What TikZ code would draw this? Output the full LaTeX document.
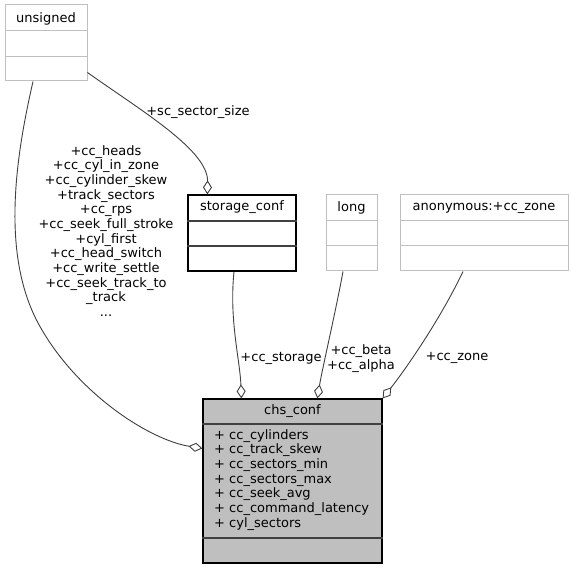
\documentclass[tikz,border=0pt]{standalone}
\usepackage{fontspec}
\setmainfont{DejaVu Sans}
\usetikzlibrary{arrows.meta}
\definecolor{edgecol}{HTML}{404040}
\definecolor{lightborder}{HTML}{BFBFBF}
\definecolor{classfill}{HTML}{BFBFBF}
\tikzset{
  txt/.style={font=\fontsize{13}{14.67}\selectfont, inner sep=0pt, text=black},
  extbox/.style={draw=lightborder, line width=1pt, fill=white, inner sep=0pt, minimum height=76pt},
  docbox/.style={draw=black, line width=1.2pt, fill=white, inner sep=0pt, minimum height=76pt},
  mainbox/.style={draw=black, line width=1.2pt, fill=classfill, inner sep=0pt},
  seplight/.style={draw=lightborder, line width=1pt},
  sepdark/.style={draw=edgecol, line width=1.2pt},
  conn/.style={draw=edgecol, line width=0.9pt, -{Diamond[open,length=14pt,width=9pt,line width=0.9pt]}},
}
\begin{document}
\begin{tikzpicture}[x=1pt,y=-1pt]
\useasboundingbox[fill=white] (0,0) rectangle (571,569);

% unsigned
\node[extbox, minimum width=82pt] (u) at (46,43) {};
\node[txt] (uh) at (46,18.5) {unsigned};
\draw[seplight] (u.west |- 0,31) -- (u.east |- 0,31);
\draw[seplight] (u.west |- 0,57) -- (u.east |- 0,57);

% storage_conf
\node[docbox, minimum width=108pt] (st) at (242,233) {};
\node[txt] (sth) at (242,207.5) {storage\_conf};
\draw[sepdark] (st.west |- 0,221) -- (st.east |- 0,221);
\draw[sepdark] (st.west |- 0,246) -- (st.east |- 0,246);

% long
\node[extbox, minimum width=51pt] (lg) at (351.5,233) {};
\node[txt] (lgh) at (351.5,207.5) {long};
\draw[seplight] (lg.west |- 0,221) -- (lg.east |- 0,221);
\draw[seplight] (lg.west |- 0,246) -- (lg.east |- 0,246);

% anonymous
\node[extbox, minimum width=168pt] (an) at (484,233) {};
\node[txt] (anh) at (484,207.5) {anonymous:+cc\_zone};
\draw[seplight] (an.west |- 0,221) -- (an.east |- 0,221);
\draw[seplight] (an.west |- 0,246) -- (an.east |- 0,246);

% chs_conf
\node[mainbox, minimum width=179pt, minimum height=164pt] (chs) at (292.5,481) {};
\node[txt] (chsh) at (292.5,411) {chs\_conf};
\draw[sepdark] (chs.west |- 0,424) -- (chs.east |- 0,424);
\draw[sepdark] (chs.west |- 0,538) -- (chs.east |- 0,538);
\node[txt, align=left, anchor=north west] (mem) at (214,429) {+ cc\_cylinders\\+ cc\_track\_skew\\+ cc\_sectors\_min\\+ cc\_sectors\_max\\+ cc\_seek\_avg\\+ cc\_command\_latency\\+ cyl\_sectors};

% connectors
\draw[conn] ([xshift=-13pt]u.south) .. controls (15,160) and (0,260) .. (42,330)
   .. controls (80,395) and (150,440) .. ([yshift=-50pt]chs.north west);
\node[txt, align=center] (l1) at (106,231) {+cc\_heads\\+cc\_cyl\_in\_zone\\+cc\_cylinder\_skew\\+track\_sectors\\+cc\_rps\\+cc\_seek\_full\_stroke\\+cyl\_first\\+cc\_head\_switch\\+cc\_write\_settle\\+cc\_seek\_track\_to\hspace*{16pt}\\\_track\\...};

\draw[conn] ([yshift=9pt]u.south east) .. controls (140,110) and (208,150) .. ([xshift=20pt]st.north west);
\node[txt] (l2) at (198,112) {+sc\_sector\_size};

\draw[conn] ([xshift=-8pt]st.south) .. controls (229,320) and (240,360) .. ([xshift=39pt]chs.north west);
\node[txt] (l3) at (281,358) {+cc\_storage};

\draw[conn] ([xshift=-8.5pt]lg.south) .. controls (336,310) and (322,370) .. ([xshift=115pt]chs.north west);
\node[txt, align=center] (l4) at (361,358.5) {+cc\_beta\\+cc\_alpha};

\draw[conn] ([xshift=-21pt]an.south) .. controls (440,320) and (405,370) .. (chs.north east);
\node[txt] (l5) at (457,358) {+cc\_zone};
\end{tikzpicture}
\end{document}
